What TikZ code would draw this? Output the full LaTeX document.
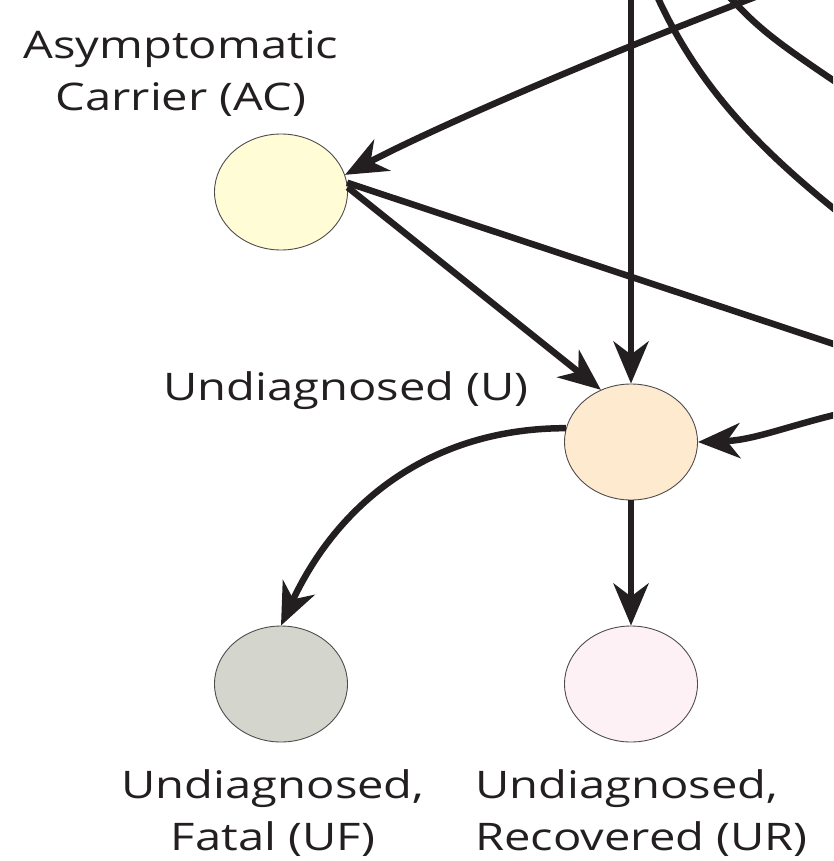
\documentclass[tikz,border=0pt]{standalone}
\usepackage{fontspec}
\setmainfont{Open Sans}[FakeStretch=1.24]
\usetikzlibrary{arrows.meta,shapes.geometric}
\definecolor{linecol}{HTML}{231F20}
\definecolor{acfill}{HTML}{FFFCD6}
\definecolor{ufill}{HTML}{FDEACF}
\definecolor{uffill}{HTML}{D4D5CC}
\definecolor{urfill}{HTML}{FDF1F5}
\tikzset{
  compart/.style={ellipse, draw=linecol!80, line width=0.9pt, minimum width=133pt, minimum height=116pt, inner sep=0pt},
  flow/.style={draw=linecol, line width=6.5pt, -{Stealth[length=42pt,width=35pt,inset=13pt]}},
  plainflow/.style={draw=linecol, line width=6.5pt},
  lbl/.style={font=\fontsize{38}{52}\selectfont, text=linecol, inner sep=0pt}
}
\begin{document}
\begin{tikzpicture}[x=1pt,y=-1pt]
\useasboundingbox (0,0) rectangle (833,861);
\clip (0,0) rectangle (833,861);
% compartments
\node[compart, fill=acfill] (AC) at (281,192) {};
\node[compart, fill=ufill] (U) at (631,442) {};
\node[compart, fill=uffill] (UF) at (281,684) {};
\node[compart, fill=urfill] (UR) at (631,684) {};
% labels
\node[lbl, align=center] (lAC) at (181,74) {Asymptomatic\\Carrier (AC)};
\node[lbl] (lU) at (346,391) {Undiagnosed (U)};
\node[lbl, align=center] (lUF) at (273,813) {Undiagnosed,\\Fatal (UF)};
\node[lbl, align=left, anchor=west] (lUR) at (475,813) {Undiagnosed,\\Recovered (UR)};
% free ends outside the frame
\coordinate (inTop) at (631,-20);
\coordinate (inAC) at (800,-20);
\coordinate (outA) at (650,-20);
\coordinate (outAe) at (900,260);
\coordinate (outB) at (718,-15);
\coordinate (outBe) at (900,125);
\coordinate (outAC) at (900,366);
\coordinate (inU) at (880,405);
% connectors
\draw[flow] (inTop) -- (U.north);
\draw[flow] (inAC) .. controls (600,55) and (430,130) .. (AC.15);
\draw[plainflow] (outA) .. controls (700,100) and (780,170) .. (outAe);
\draw[plainflow] (outB) .. controls (765,35) .. (outBe);
\draw[plainflow] (AC.8) -- (outAC);
\draw[flow] (AC.4) -- (U.120);
\draw[flow] (inU) .. controls (800,420) and (760,440) .. (U.east);
\draw[flow] (U.168) to[out=180,in=65] (UF.north);
\draw[flow] (U.south) -- (UR.north);
\end{tikzpicture}
\end{document}
